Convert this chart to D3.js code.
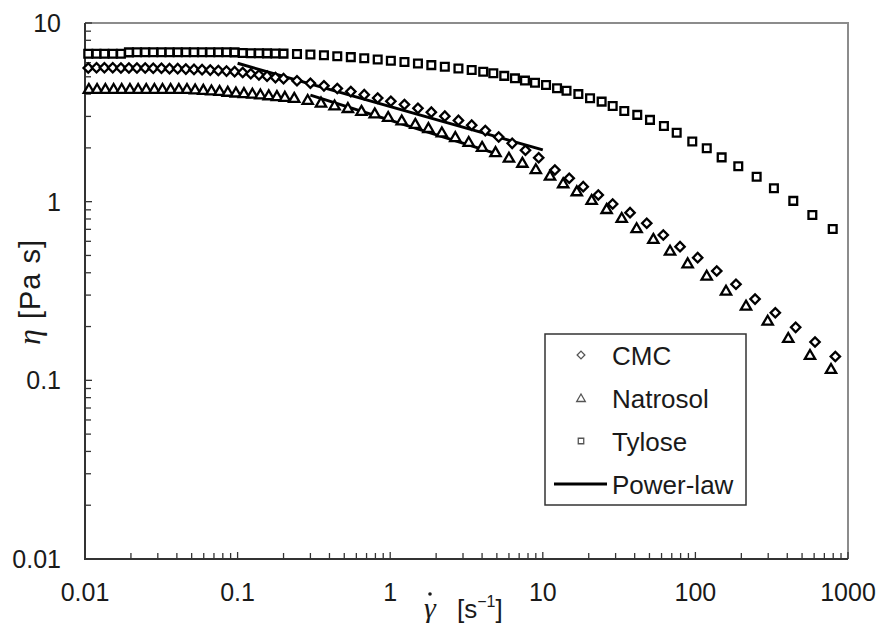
<!DOCTYPE html>
<html><head><meta charset="utf-8">
<script src="https://cdn.jsdelivr.net/npm/d3@7"></script>
<style>body{margin:0;background:#fff}svg{display:block}</style>
</head><body><svg id="c" width="880" height="623"></svg>
<script>
// ---- data ----
const cmcRate = [0.0105,0.0119,0.0134,0.0152,0.0172,0.0194,0.0219,0.0248,0.028,0.0317,0.0358,0.0405,0.0458,0.0518,0.0585,0.0662,0.0748,0.0846,0.0956,0.108,0.122,0.138,0.156,0.177,0.2,
  0.245,0.3,0.368,0.45,0.552,0.676,0.828,1.01,1.24,1.52,1.86,2.28,2.8,3.42,4.2,5.14,6.3,7.7,9.4,
  12.0,14.9,18.4,23.1,28.7,37.3,48.0,61.6,79.3,103.5,138,184.5,246,334,454,608,826];
const cmcVisc = [5.6,5.62,5.62,5.62,5.6,5.6,5.6,5.6,5.58,5.58,5.55,5.55,5.52,5.5,5.48,5.45,5.42,5.38,5.34,5.28,5.2,5.12,5.04,4.95,4.88,
  4.75,4.6,4.45,4.3,4.13,3.97,3.8,3.65,3.5,3.33,3.17,3.01,2.85,2.68,2.5,2.3,2.12,1.94,1.76,
  1.504,1.352,1.213,1.09,0.971,0.868,0.757,0.651,0.56,0.486,0.409,0.345,0.285,0.239,0.198,0.164,0.136];

const natRate = [0.0106,0.012,0.0136,0.0154,0.0174,0.0197,0.0223,0.0252,0.0285,0.0322,0.0364,0.0412,0.0466,0.0527,0.0596,0.0674,0.0762,0.0862,0.0975,0.11,0.125,0.141,0.16,0.181,0.204,
  0.235,0.288,0.352,0.432,0.528,0.648,0.792,0.97,1.19,1.46,1.78,2.18,2.67,3.27,4.0,4.9,6.0,7.35,9.0,
  11.15,13.6,16.7,20.9,26.2,32.9,41.2,53.0,68.2,89.0,118.6,158.7,214.6,297.7,406,563.6,774];
const natVisc = [4.22,4.22,4.22,4.22,4.22,4.22,4.22,4.22,4.22,4.22,4.22,4.22,4.22,4.19,4.17,4.14,4.11,4.07,4.03,4.0,3.97,3.93,3.89,3.85,3.81,
  3.76,3.66,3.54,3.41,3.30,3.18,3.08,2.94,2.81,2.69,2.55,2.41,2.27,2.13,2.0,1.87,1.74,1.63,1.5,
  1.38,1.251,1.129,1.009,0.898,0.8,0.701,0.611,0.525,0.446,0.38,0.3135,0.2585,0.213,0.1705,0.137,0.1143];

const tylRate = [0.0105,0.0119,0.0134,0.0152,0.0172,0.0194,0.0219,0.0248,0.028,0.0317,0.0358,0.0405,0.0458,0.0518,0.0585,0.0662,0.0748,0.0846,0.0956,0.108,0.122,0.138,0.156,0.177,0.2,
  0.245,0.3,0.368,0.45,0.552,0.676,0.828,1.01,1.24,1.52,1.86,2.28,2.8,3.42,
  4.07,4.74,5.59,6.57,7.64,8.89,10.5,12.4,14.3,17.1,20.4,24.3,28.7,34.2,41.6,50.4,62.2,75.4,95.4,118.7,148.6,191,252,327,438,584,794];
const tylVisc = [6.72,6.72,6.72,6.72,6.72,6.85,6.86,6.86,6.86,6.86,6.86,6.86,6.86,6.86,6.86,6.86,6.86,6.86,6.85,6.8,6.78,6.78,6.76,6.75,6.74,
  6.7,6.66,6.6,6.52,6.44,6.35,6.25,6.15,6.05,5.93,5.81,5.69,5.57,5.45,
  5.34,5.23,5.06,4.9,4.76,4.63,4.5,4.31,4.18,4.0,3.79,3.63,3.43,3.22,3.06,2.87,2.65,2.43,2.17,1.99,1.77,1.58,1.38,1.19,1.01,0.843,0.703];

const fitCmcRate = [0.1, 10];
const fitCmcVisc = [5.95, 1.95];
const fitNatRate = [0.3, 5];
const fitNatVisc = [3.95, 1.85];

const xTicks = [0.01, 0.1, 1, 10, 100, 1000];
const xTickLabels = ["0.01", "0.1", "1", "10", "100", "1000"];
const yTicks = [0.01, 0.1, 1, 10];
const yTickLabels = ["0.01", "0.1", "1", "10"];
const legendLabels = ["CMC", "Natrosol", "Tylose", "Power-law"];

// ---- drawing ----
const svg = d3.select("#c");
const L = 85, R = 848, T = 23, B = 559;
const x = d3.scaleLog().domain([0.01, 1000]).range([L, R]);
const y = d3.scaleLog().domain([0.01, 10]).range([B, T]);
const FONT = "Liberation Sans, Arial, sans-serif";
const SERIF = "Liberation Serif, Times New Roman, serif";

svg.append("rect").attr("width", 880).attr("height", 623).attr("fill", "#fff");

// frame top/right
svg.append("path").attr("d", `M${L},${T}H${R}V${B}`).attr("fill", "none")
  .attr("stroke", "#8c8c8c").attr("stroke-width", 2);

// minor + major ticks (inside)
const xAll = x.ticks();
svg.append("g").selectAll("line").data(xAll).join("line")
  .attr("x1", d => x(d)).attr("x2", d => x(d))
  .attr("y1", B).attr("y2", d => B - (xTicks.includes(d) ? 7 : 6))
  .attr("stroke", "#333").attr("stroke-width", 1.3);
const yAll = y.ticks();
svg.append("g").selectAll("line").data(yAll).join("line")
  .attr("y1", d => y(d)).attr("y2", d => y(d))
  .attr("x1", L).attr("x2", d => L + (yTicks.includes(d) ? 7 : 6))
  .attr("stroke", "#333").attr("stroke-width", 1.3);

// axis lines
svg.append("path").attr("d", `M${L},${T}V${B}H${R}`).attr("fill", "none")
  .attr("stroke", "#333").attr("stroke-width", 2);

// tick labels
svg.append("g").selectAll("text").data(xTicks).join("text")
  .attr("x", d => x(d)).attr("y", 601).attr("text-anchor", "middle")
  .attr("font-family", FONT).attr("font-size", 25).attr("fill", "#1a1a1a")
  .text((d, i) => xTickLabels[i]);
svg.append("g").selectAll("text").data(yTicks).join("text")
  .attr("x", 61).attr("y", d => y(d) + 9).attr("text-anchor", "end")
  .attr("font-family", FONT).attr("font-size", 25).attr("fill", "#1a1a1a")
  .text((d, i) => yTickLabels[i]);

// axis titles
const yt = svg.append("text").attr("transform", "translate(40,292) rotate(-90)")
  .attr("text-anchor", "middle").attr("font-family", FONT).attr("font-size", 29)
  .attr("fill", "#1a1a1a").attr("letter-spacing", 1);
yt.append("tspan").attr("font-family", SERIF).attr("font-style", "italic").attr("font-size", 32).text("η");
yt.append("tspan").text(" [Pa s]");

svg.append("text").attr("x", 424).attr("y", 618)
  .attr("font-family", SERIF).attr("font-style", "italic").attr("font-size", 30)
  .attr("fill", "#1a1a1a").text("γ");
// overdot of gamma (time derivative)
svg.append("circle").attr("cx", 430).attr("cy", 594).attr("r", 1.8).attr("fill", "#1a1a1a");
const xt = svg.append("text").attr("x", 457).attr("y", 618)
  .attr("font-family", FONT).attr("font-size", 26).attr("fill", "#1a1a1a");
xt.append("tspan").text("[s");
xt.append("tspan").attr("font-size", 16).attr("dy", -11).text("−1");
xt.append("tspan").attr("dy", 11).text("]");

// power-law lines
const line = d3.line().x(d => x(d[0])).y(d => y(d[1]));
const fits = [d3.zip(fitCmcRate, fitCmcVisc), d3.zip(fitNatRate, fitNatVisc)];
svg.append("g").selectAll("path").data(fits).join("path")
  .attr("d", line).attr("fill", "none").attr("stroke", "#000").attr("stroke-width", 3);

// markers
const sq = d3.symbol(d3.symbolSquare, 60)();
const dia = d3.symbol(d3.symbolSquare, 44)();
const tri = d3.symbol(d3.symbolTriangle, 46)();
function plot(rates, vis, path, rot) {
  svg.append("g").selectAll("path").data(d3.zip(rates, vis)).join("path")
    .attr("d", path)
    .attr("transform", d => `translate(${x(d[0])},${y(d[1])})` + (rot ? " rotate(45)" : ""))
    .attr("fill", "#fff").attr("stroke", "#000").attr("stroke-width", 2.3);
}
plot(tylRate, tylVisc, sq, false);
plot(cmcRate, cmcVisc, dia, true);
plot(natRate, natVisc, tri, false);

// legend
const lg = svg.append("g");
lg.append("rect").attr("x", 545).attr("y", 334).attr("width", 201).attr("height", 171)
  .attr("fill", "#fff").attr("stroke", "#333").attr("stroke-width", 1.5);
const rowsY = [355, 398, 441, 484];
lg.append("path").attr("d", d3.symbol(d3.symbolSquare, 30)())
  .attr("transform", `translate(581,${rowsY[0]}) rotate(45)`).attr("fill", "#fff").attr("stroke", "#555").attr("stroke-width", 1.3);
lg.append("path").attr("d", d3.symbol(d3.symbolTriangle, 32)())
  .attr("transform", `translate(581,${rowsY[1] + 1})`).attr("fill", "#fff").attr("stroke", "#555").attr("stroke-width", 1.3);
lg.append("path").attr("d", d3.symbol(d3.symbolSquare, 30)())
  .attr("transform", `translate(581,${rowsY[2]})`).attr("fill", "#fff").attr("stroke", "#555").attr("stroke-width", 1.3);
lg.append("line").attr("x1", 554).attr("x2", 607).attr("y1", rowsY[3]).attr("y2", rowsY[3])
  .attr("stroke", "#000").attr("stroke-width", 3);
lg.selectAll("text").data(legendLabels).join("text")
  .attr("x", 612).attr("y", (d, i) => rowsY[i] + 9.5)
  .attr("font-family", FONT).attr("font-size", 26).attr("fill", "#1a1a1a").text(d => d);
</script></body></html>
